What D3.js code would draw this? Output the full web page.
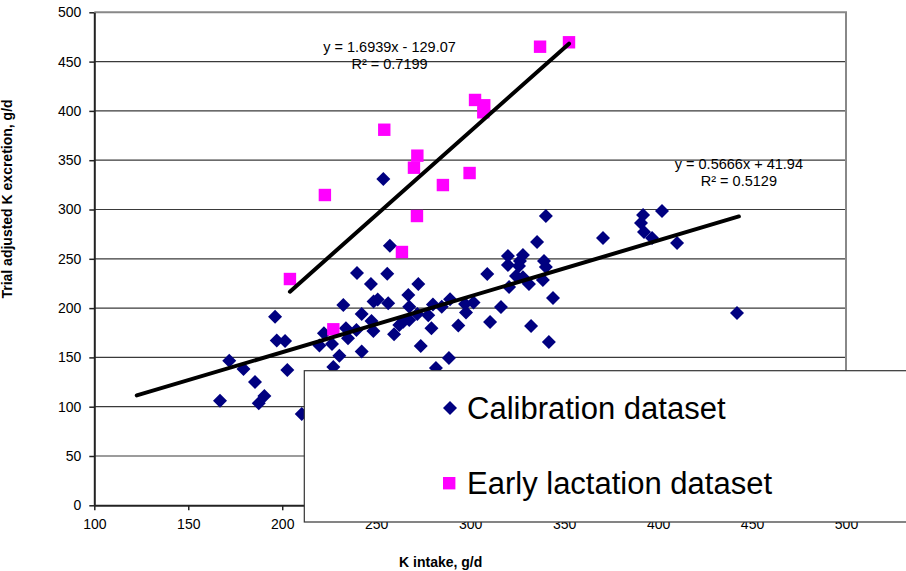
<!DOCTYPE html>
<html>
<head>
<meta charset="utf-8">
<script src="https://cdn.jsdelivr.net/npm/d3@7"></script>
<style>
body { margin: 0; background: #fff; }
svg { display: block; font-family: "Liberation Sans", Arial, sans-serif; }
.tick text { font-size: 14px; fill: #000; }
</style>
</head>
<body>
<div id="chart"></div>
<script>
// calibration dataset (diamonds)
var calibX = [166.9, 171.8, 179.4, 185.5, 187.5, 190.5, 196.2, 197.1, 201.5, 202.7,
  210.4, 219.8, 222.2, 226.5, 227.2, 230.4, 232.5, 233.9, 235.0, 239.5,
  239.8, 242.3, 242.3, 247.2, 247.5, 248.5, 248.6, 250.8, 253.8, 255.9,
  256.4, 257.3, 259.5, 262.3, 264.4, 267.1, 267.6, 267.6, 272.4, 271.9,
  273.7, 277.7, 279.4, 280.2, 281.8, 284.9, 288.7, 289.3, 293.7, 297.3,
  297.8, 301.8, 309.1, 310.6, 316.4, 320.1, 320.1, 320.7, 324.4, 326.5,
  328.1, 326.0, 328.1, 331.3, 332.4, 335.6, 338.7, 339.3, 340.3, 340.3,
  341.9, 344.1, 370.7, 392.0, 390.9, 392.5, 396.8, 402.1, 410.1, 442.0];
var calibY = [106.0, 146.6, 138.2, 125.0, 103.4, 110.9, 191.3, 167.1, 166.6, 137.2,
  92.6, 162.1, 174.4, 163.6, 140.3, 151.7, 203.1, 179.5, 169.4, 177.8,
  235.6, 194.0, 156.0, 224.4, 186.9, 176.8, 206.7, 208.7, 330.9, 234.9,
  204.9, 263.3, 173.4, 182.9, 186.2, 213.3, 201.4, 187.9, 224.4, 194.0,
  161.6, 192.7, 179.5, 203.7, 139.2, 201.4, 149.4, 208.9, 182.4, 204.2,
  195.5, 205.7, 234.6, 185.9, 201.1, 252.8, 243.7, 221.4, 232.5, 247.8,
  253.9, 242.7, 231.4, 224.4, 181.8, 267.0, 228.5, 247.8, 241.7, 293.4,
  165.6, 210.2, 271.1, 294.4, 286.3, 277.2, 271.1, 298.5, 266.0, 195.0];

// early lactation dataset (squares)
var earlyX = [204.1, 222.7, 227.2, 254.3, 270.1, 271.9, 271.7, 263.7, 285.5, 299.7,
  302.6, 307.5, 307.0, 337.2, 352.6];
var earlyY = [229.5, 314.7, 178.5, 380.9, 342.4, 354.6, 293.4, 256.9, 324.8, 337.0,
  411.1, 405.7, 398.6, 465.1, 469.6];

// trendlines
var calibFit = [0.5666, 41.94];
var calibFitRange = [122.6, 443.0];
var earlyFit = [1.6939, -129.07];
var earlyFitRange = [204.1, 352.6];
var calibEq = ["y = 0.5666x + 41.94", "R\u00b2 = 0.5129"];
var earlyEq = ["y = 1.6939x - 129.07", "R\u00b2 = 0.7199"];

var seriesNames = ["Calibration dataset", "Early lactation dataset"];
var xTicks = [100, 150, 200, 250, 300, 350, 400, 450, 500];
var yTicks = [0, 50, 100, 150, 200, 250, 300, 350, 400, 450, 500];

var margin = {top: 12.3, left: 94.3},
    width = 751.7,
    height = 493;

var svg = d3.select("#chart").append("svg")
    .attr("width", 906)
    .attr("height", 571);

var g = svg.append("g")
    .attr("transform", "translate(" + margin.left + "," + margin.top + ")");

var x = d3.scaleLinear().domain([100, 500]).range([0, width]);
var y = d3.scaleLinear().domain([0, 500]).range([height, 0]);

/* gridlines */
g.selectAll(".grid")
    .data(yTicks.slice(1, -1))
  .enter().append("line")
    .attr("x1", 0).attr("x2", width)
    .attr("y1", function(d) { return y(d); })
    .attr("y2", function(d) { return y(d); })
    .attr("stroke", "#3a3a3a")
    .attr("stroke-width", 1.2);

// top & right border of plot area
g.append("path")
    .attr("d", "M0," + y(500) + "H" + x(500) + "V" + y(0))
    .attr("fill", "none")
    .attr("stroke", "#888")
    .attr("stroke-width", 2);

// axes
var xAxis = d3.axisBottom(x).tickValues(xTicks).tickSize(5).tickSizeOuter(0).tickPadding(9);
var yAxis = d3.axisLeft(y).tickValues(yTicks).tickSize(5).tickSizeOuter(0).tickPadding(8);

var gx = g.append("g")
    .attr("transform", "translate(0," + height + ")")
    .call(xAxis);
var gy = g.append("g").call(yAxis);

[gx, gy].forEach(function(a) {
  a.select(".domain").attr("stroke", "#222").attr("stroke-width", 2);
  a.selectAll(".tick line").attr("stroke", "#222").attr("stroke-width", 1.5);
  a.attr("font-family", null).attr("font-size", null);
});

// points
var diamond = "M0,-7L7,0L0,7L-7,0Z";
g.selectAll(".calib")
    .data(calibX)
  .enter().append("path")
    .attr("d", diamond)
    .attr("fill", "#000080")
    .attr("transform", function(d, i) { return "translate(" + x(d) + "," + y(calibY[i]) + ")"; });

g.selectAll(".early")
    .data(earlyX)
  .enter().append("rect")
    .attr("x", function(d) { return x(d) - 6.2; })
    .attr("y", function(d, i) { return y(earlyY[i]) - 6.2; })
    .attr("width", 12.4).attr("height", 12.4)
    .attr("fill", "#ff00ff");

// trendlines
var fitLine = d3.line()
    .x(function(d) { return x(d[0]); })
    .y(function(d) { return y(d[1]); });

[[calibFit, calibFitRange], [earlyFit, earlyFitRange]].forEach(function(f) {
  var pts = f[1].map(function(v) { return [v, f[0][0] * v + f[0][1]]; });
  g.append("path")
      .attr("d", fitLine(pts))
      .attr("fill", "none")
      .attr("stroke", "#000")
      .attr("stroke-width", 4)
      .attr("stroke-linecap", "round");
});

// equation labels
function eqLabel(lines, cx, cy) {
  g.selectAll(null)
      .data(lines)
    .enter().append("text")
      .attr("x", x(cx))
      .attr("y", function(d, i) { return y(cy) + i * 17; })
      .attr("text-anchor", "middle")
      .attr("font-size", "14.5px")
      .text(function(d) { return d; });
}
eqLabel(earlyEq, 257.1, 459.7);
eqLabel(calibEq, 443.0, 340.6);

// axis titles
svg.append("text")
    .attr("x", 440.7).attr("y", 567)
    .attr("text-anchor", "middle")
    .attr("font-weight", "bold")
    .attr("font-size", "14px")
    .text("K intake, g/d");

svg.append("text")
    .attr("transform", "translate(12,199) rotate(-90)")
    .attr("text-anchor", "middle")
    .attr("font-weight", "bold")
    .attr("font-size", "14px")
    .text("Trial adjusted K excretion, g/d");

// legend (sits over the plot, runs off the right edge)
var legend = svg.append("g");
legend.append("rect")
    .attr("x", 304.3).attr("y", 370.7)
    .attr("width", 640).attr("height", 151.3)
    .attr("fill", "#fff")
    .attr("stroke", "#333")
    .attr("stroke-width", 1.2);

legend.append("path")
    .attr("d", diamond)
    .attr("fill", "#000080")
    .attr("transform", "translate(450,408)");
legend.append("rect")
    .attr("x", 443).attr("y", 477)
    .attr("width", 12.4).attr("height", 12.4)
    .attr("fill", "#ff00ff");

legend.selectAll(".lt")
    .data(seriesNames)
  .enter().append("text")
    .attr("x", 467)
    .attr("y", function(d, i) { return i === 0 ? 419.3 : 494; })
    .attr("font-size", "31px")
    .text(function(d) { return d; });
</script>
</body>
</html>
